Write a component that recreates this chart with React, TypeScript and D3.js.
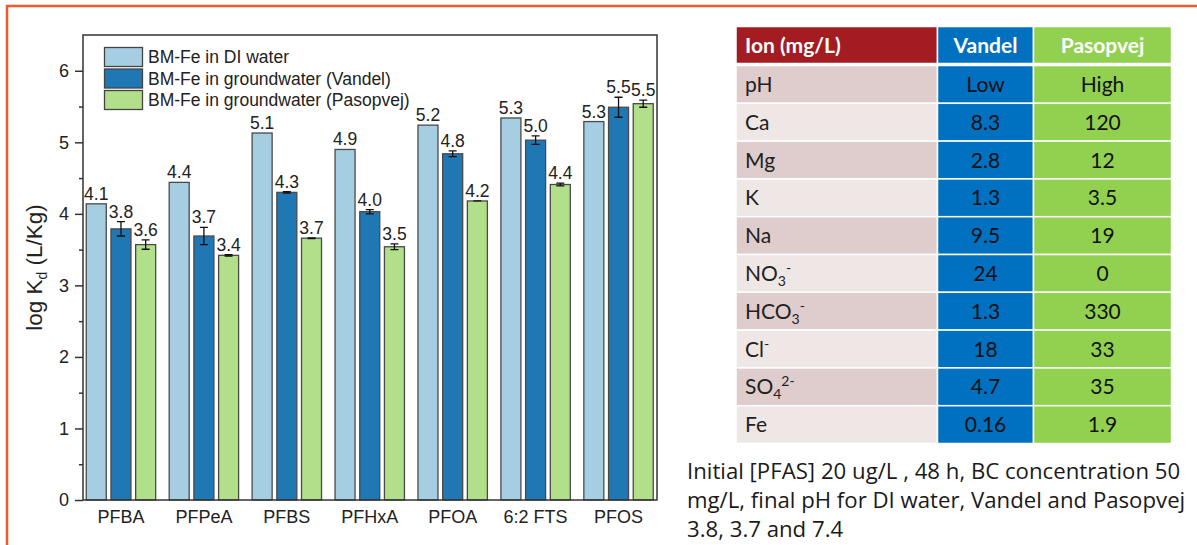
import { useEffect, useRef } from "react";
import * as d3 from "d3";

const CATEGORIES = ["PFBA", "PFPeA", "PFBS", "PFHxA", "PFOA", "6:2 FTS", "PFOS"];
const SERIES = [
  "BM-Fe in DI water",
  "BM-Fe in groundwater (Vandel)",
  "BM-Fe in groundwater (Pasopvej)",
];
const DI_WATER = [4.14, 4.44, 5.13, 4.9, 5.24, 5.34, 5.29];
const VANDEL = [3.79, 3.69, 4.3, 4.03, 4.84, 5.03, 5.49];
const VANDEL_ERR = [0.1, 0.12, 0.01, 0.03, 0.04, 0.06, 0.14];
const PASOPVEJ = [3.57, 3.42, 3.66, 3.54, 4.18, 4.41, 5.54];
const PASOPVEJ_ERR = [0.065, 0.01, 0.005, 0.04, 0, 0.02, 0.05];
const SERIES_COLORS = ["#a6cee3", "#1f78b4", "#b2df8a"];
const Y_TICKS = [0, 1, 2, 3, 4, 5, 6];

// table: ion names as [text, "sub" | "sup" | ""] segments
const ION_NAMES: [string, string][][] = [
  [["pH", ""]],
  [["Ca", ""]],
  [["Mg", ""]],
  [["K", ""]],
  [["Na", ""]],
  [["NO", ""], ["3", "sub"], ["-", "sup"]],
  [["HCO", ""], ["3", "sub"], ["-", "sup"]],
  [["Cl", ""], ["-", "sup"]],
  [["SO", ""], ["4", "sub"], ["2-", "sup"]],
  [["Fe", ""]],
];
const VANDEL_IONS = ["Low", "8.3", "2.8", "1.3", "9.5", "24", "1.3", "18", "4.7", "0.16"];
const PASOPVEJ_IONS = ["High", "120", "12", "3.5", "19", "0", "330", "33", "35", "1.9"];
const TABLE_HEADERS = ["Ion (mg/L)", "Vandel", "Pasopvej"];
const CAPTION = [
  "Initial [PFAS] 20 ug/L , 48 h, BC concentration 50",
  "mg/L, final pH for DI water, Vandel and Pasopvej",
  "3.8, 3.7 and 7.4",
];

const ARIAL = "'Liberation Sans', Arial, sans-serif";
const CALIBRI = "Lato, 'Open Sans', sans-serif";
const SEGOE = "'Open Sans', 'Noto Sans', sans-serif";

export default function App() {
  const svgRef = useRef<SVGSVGElement>(null);

  useEffect(() => {
    if (!svgRef.current) return;
    const svg = d3.select(svgRef.current);
    svg.selectAll("*").remove();

    // orange frame (top + left only)
    svg.append("line").attr("x1", 6).attr("x2", 1197).attr("y1", 6).attr("y2", 6)
      .attr("stroke", "#f15a29").attr("stroke-width", 2.5);
    svg.append("line").attr("x1", 7).attr("x2", 7).attr("y1", 5).attr("y2", 545)
      .attr("stroke", "#f15a29").attr("stroke-width", 2.5);

    // ---- bar chart ----
    const left = 83, right = 657, top = 35, bottom = 500;
    const y = d3.scaleLinear().domain([0, 6.5]).range([bottom, top]);
    const x0 = d3.scaleBand<string>().domain(CATEGORIES).range([79.5, 660]);
    const x1 = d3.scaleBand<string>().domain(SERIES).range([-34.7, 34.7]).paddingInner(0.19);

    const values = [DI_WATER, VANDEL, PASOPVEJ];
    const errors = [null, VANDEL_ERR, PASOPVEJ_ERR];

    const bars = SERIES.flatMap((s, si) =>
      CATEGORIES.map((c, ci) => ({
        s, si, c,
        v: values[si][ci],
        e: errors[si] ? errors[si]![ci] : 0,
      }))
    );
    const bx = (d: { s: string; c: string }) => x0(d.c)! + x0.bandwidth() / 2 + x1(d.s)!;

    const g = svg.append("g");
    g.selectAll("rect.bar").data(bars).join("rect")
      .attr("class", "bar")
      .attr("x", bx)
      .attr("y", (d) => y(d.v))
      .attr("width", x1.bandwidth())
      .attr("height", (d) => y(0) - y(d.v))
      .attr("fill", (d) => SERIES_COLORS[d.si])
      .attr("stroke", "#4a4a4a")
      .attr("stroke-width", 1.3);

    // error bars
    const eb = bars.filter((d) => d.si > 0);
    const cx = (d: { s: string; c: string }) => bx(d) + x1.bandwidth() / 2;
    g.selectAll("path.err").data(eb).join("path")
      .attr("class", "err")
      .attr("d", (d) => {
        const c = cx(d), t = y(d.v + d.e), b = y(d.v - d.e);
        return `M${c - 4},${t}H${c + 4}M${c},${t}V${b}M${c - 4},${b}H${c + 4}`;
      })
      .attr("fill", "none")
      .attr("stroke", "#111")
      .attr("stroke-width", 1.3);

    // value labels
    g.selectAll("text.val").data(bars).join("text")
      .attr("class", "val")
      .attr("x", cx)
      .attr("y", (d) => y(d.v + d.e) - 4)
      .attr("text-anchor", "middle")
      .attr("font-family", ARIAL)
      .attr("font-size", 17.5)
      .attr("fill", "#222")
      .text((d) => d.v.toFixed(1));

    // frame
    g.append("rect")
      .attr("x", left).attr("y", top)
      .attr("width", right - left).attr("height", bottom - top)
      .attr("fill", "none").attr("stroke", "#333").attr("stroke-width", 1.5);

    // y axis
    const ya = g.append("g").attr("transform", `translate(${left},0)`)
      .call(d3.axisLeft(y).tickValues(Y_TICKS).tickSize(8).tickPadding(6).tickFormat(d3.format("d")));
    ya.select(".domain").remove();
    ya.selectAll("line").attr("stroke", "#333").attr("stroke-width", 1.5);
    ya.selectAll("text").attr("font-family", ARIAL).attr("font-size", 18).attr("fill", "#222");

    const ym = g.append("g").attr("transform", `translate(${left},0)`)
      .call(d3.axisLeft(y).tickValues(Y_TICKS.slice(0, -1).map((t) => t + 0.5)).tickSize(4).tickFormat(() => ""));
    ym.select(".domain").remove();
    ym.selectAll("line").attr("stroke", "#333").attr("stroke-width", 1.5);

    // x labels
    g.selectAll("text.cat").data(CATEGORIES).join("text")
      .attr("class", "cat")
      .attr("x", (c) => x0(c)! + x0.bandwidth() / 2)
      .attr("y", 522.5)
      .attr("text-anchor", "middle")
      .attr("font-family", ARIAL)
      .attr("font-size", 18)
      .attr("fill", "#222")
      .text((c) => c);

    // y title
    const yt = g.append("text")
      .attr("transform", `translate(42,${(top + bottom) / 2}) rotate(-90)`)
      .attr("text-anchor", "middle")
      .attr("font-family", ARIAL)
      .attr("font-size", 22.5)
      .attr("fill", "#222");
    yt.append("tspan").text("log K");
    yt.append("tspan").attr("font-size", 14).attr("dy", 5).text("d");
    yt.append("tspan").attr("dy", -5).text(" (L/Kg)");

    // legend
    const lg = g.append("g");
    SERIES.forEach((s, i) => {
      const ly = 47.5 + i * 21.5;
      lg.append("rect").attr("x", 104.5).attr("y", ly).attr("width", 38).attr("height", 19)
        .attr("fill", SERIES_COLORS[i]).attr("stroke", "#444").attr("stroke-width", 1.3);
      lg.append("text").attr("x", 148).attr("y", ly + 9.5).attr("dy", "0.35em")
        .attr("font-family", ARIAL).attr("font-size", 17.5).attr("fill", "#222").text(s);
    });

    // ---- ion table ----
    const colEdges = [736, 937.5, 1033.5, 1171.5];
    const headFill = ["#a31c22", "#0070c0", "#92d050"];
    const rows = d3.scaleBand<number>().domain(d3.range(ION_NAMES.length)).range([65.5, 443.5]);
    const t = svg.append("g");

    TABLE_HEADERS.forEach((h, i) => {
      t.append("rect").attr("x", colEdges[i]).attr("y", 26.5)
        .attr("width", colEdges[i + 1] - colEdges[i]).attr("height", 37)
        .attr("fill", headFill[i]).attr("stroke", "#fff").attr("stroke-width", 1.5);
      t.append("text")
        .attr("x", i === 0 ? 745 : (colEdges[i] + colEdges[i + 1]) / 2)
        .attr("y", 52.5)
        .attr("text-anchor", i === 0 ? "start" : "middle")
        .attr("font-family", CALIBRI).attr("font-weight", 700).attr("font-size", 21)
        .attr("fill", "#fff").text(h);
    });

    ION_NAMES.forEach((parts, r) => {
      const ry = rows(r)!;
      const rh = rows.bandwidth();
      const fills = [r % 2 === 0 ? "#dfcccd" : "#efe7e6", "#0070c0", "#92d050"];
      fills.forEach((f, i) => {
        t.append("rect").attr("x", colEdges[i]).attr("y", ry)
          .attr("width", colEdges[i + 1] - colEdges[i]).attr("height", rh)
          .attr("fill", f).attr("stroke", "#fff").attr("stroke-width", 1.5);
      });
      const base = ry + rh / 2 + 7.5;
      const name = t.append("text").attr("x", 745).attr("y", base)
        .attr("font-family", CALIBRI).attr("font-size", 21).attr("fill", "#222");
      let shift = 0;
      parts.forEach(([txt, kind]) => {
        const target = kind === "sub" ? 5 : kind === "sup" ? -8 : 0;
        const sp = name.append("tspan").attr("dy", target - shift).text(txt);
        if (kind) sp.attr("font-size", 14);
        shift = target;
      });
      [VANDEL_IONS[r], PASOPVEJ_IONS[r]].forEach((v, i) => {
        t.append("text")
          .attr("x", (colEdges[i + 1] + colEdges[i + 2]) / 2)
          .attr("y", base)
          .attr("text-anchor", "middle")
          .attr("font-family", CALIBRI).attr("font-size", 21).attr("fill", "#111")
          .text(v);
      });
    });

    // caption
    svg.append("g").selectAll("text").data(CAPTION).join("text")
      .attr("x", 687)
      .attr("y", (_, i) => 478.5 + i * 29)
      .attr("font-family", SEGOE)
      .attr("font-size", 22.2)
      .attr("fill", "#1a1a1a")
      .text((d) => d);
  }, []);

  return (
    <div style={{ position: "absolute", left: 0, top: 0, width: 1197, height: 545, background: "#fff" }}>
      <svg ref={svgRef} width={1197} height={545} style={{ display: "block" }} />
    </div>
  );
}
